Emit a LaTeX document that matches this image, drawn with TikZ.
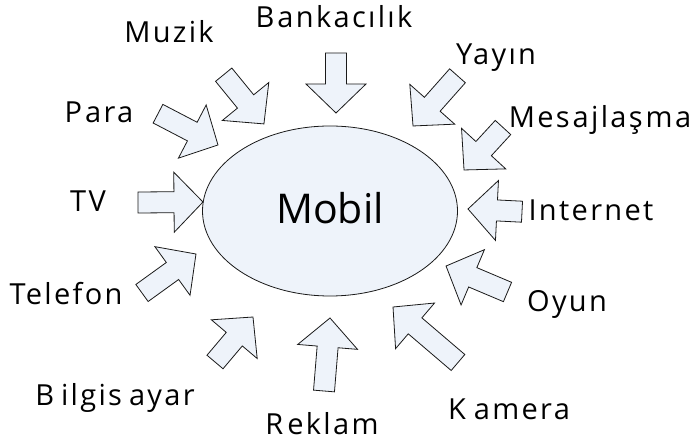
\documentclass[tikz,border=0pt]{standalone}
\usepackage{fontspec}
\usetikzlibrary{shapes.geometric}
\setmainfont{Open Sans}
\newfontfamily\lblfont[LetterSpace=8]{Open Sans}
\definecolor{shapefill}{HTML}{EEF3FA}
\definecolor{shapeline}{HTML}{1A1A1A}
\newcommand\blockarrow[4]{%
  \pgfmathsetmacro\bang{atan2(-(#4-#2),#3-#1)}%
  \pgfmathsetmacro\blen{veclen(#3-#1,#4-#2)}%
  \begin{scope}[shift={(#1,#2)},rotate=\bang]
    \draw[arrowshape] (0,-10.5) -- (\blen-29,-10.5) -- (\blen-29,-30) -- (\blen,0)
      -- (\blen-29,30) -- (\blen-29,10.5) -- (0,10.5) -- cycle;
  \end{scope}}
\begin{document}
\begin{tikzpicture}[x=1pt,y=-1pt,
  arrowshape/.style={draw=shapeline,fill=shapefill,line width=0.8pt,line join=miter},
  lbl/.style={anchor=base,inner sep=0pt,font=\lblfont\fontsize{29}{34}\selectfont}]
\useasboundingbox[fill=white] (0,0) rectangle (691,443);
% central ellipse
\node[draw=shapeline,fill=shapefill,line width=0.8pt,ellipse,minimum width=255,minimum height=170,inner sep=0pt] (mobil) at (330,211) {};
\node[anchor=base,inner sep=0pt,font=\fontsize{41}{48}\selectfont] (mobiltxt) at (330,224) {Mobil};
% block arrows (tail x, tail y, tip x, tip y)
\blockarrow{336}{53}{336}{113}
\blockarrow{223.7}{74.7}{264}{124}
\blockarrow{158}{113.7}{218}{145}
\blockarrow{457.5}{75.8}{413}{126}
\blockarrow{503}{127.5}{464}{170}
\blockarrow{522}{211.7}{468}{209}
\blockarrow{138}{202.5}{203}{202}
\blockarrow{142}{293}{196}{254}
\blockarrow{215}{362}{253}{317}
\blockarrow{324}{391}{330}{318}
\blockarrow{458}{362.5}{393}{307}
\blockarrow{507.5}{292}{446}{266}
% labels
\node[lbl] (muzik) at (169,43) {Muzik};
\node[lbl] (bank) at (334,28) {B\kern3pt ankacılık};
\node[lbl] (yayin) at (496,65) {Yayın};
\node[lbl] (mesaj) at (600,128) {Mes\kern3pt ajlaş\kern3pt ma};
\node[lbl] (para) at (99,123) {P\kern3pt ara};
\node[lbl] (tv) at (88,212) {TV};
\node[lbl] (internet) at (591,221) {Internet};
\node[lbl] (telefon) at (66,305) {Telefon};
\node[lbl] (oyun) at (567,312) {Oyun};
\node[lbl] (bilgisayar) at (115,406) {B\kern7pt ilgis\kern7pt ayar};
\node[lbl] (reklam) at (322,435) {R\kern4pt eklam};
\node[lbl] (kamera) at (509,420) {K\kern8pt amera};
\end{tikzpicture}
\end{document}
